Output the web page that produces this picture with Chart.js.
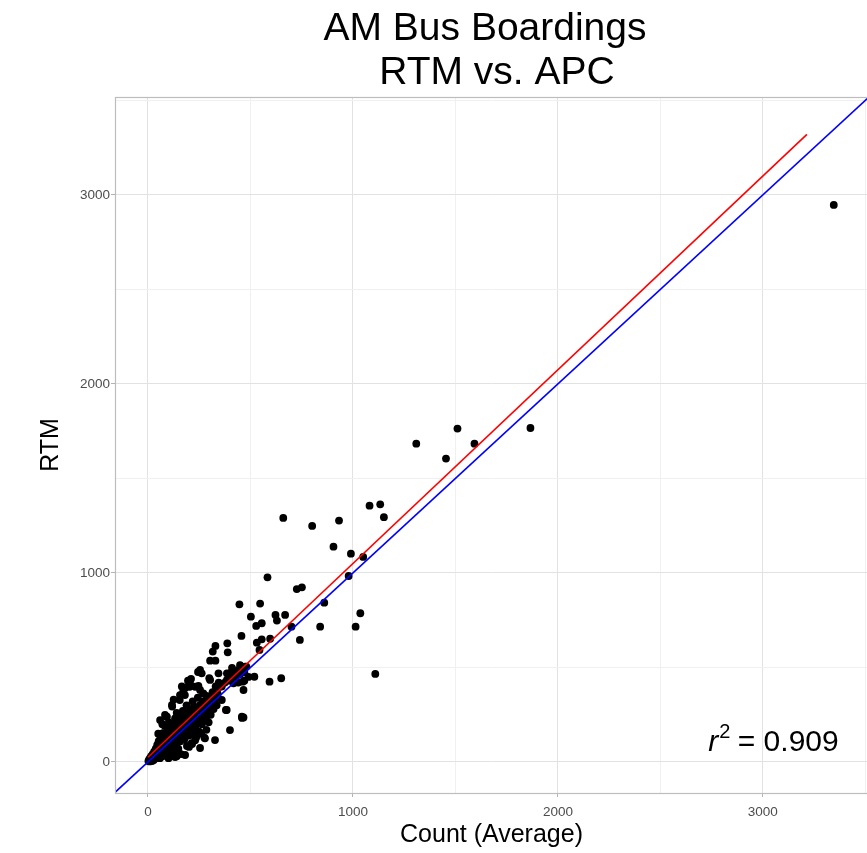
<!DOCTYPE html>
<html>
<head>
<meta charset="utf-8">
<title>AM Bus Boardings RTM vs. APC</title>
<script src="https://cdn.jsdelivr.net/npm/chart.js@4.4.1/dist/chart.umd.min.js"></script>
<style>
  html, body { margin: 0; padding: 0; background: #fff; overflow: hidden; }
  /* panel runs a few px past the right edge, as in the original image */
  #wrap { width: 867px; height: 853px; overflow: hidden; }
</style>
</head>
<body>
<div id="wrap"><canvas id="boardingsChart" width="872" height="853"></canvas></div>
<script>
// AM bus boardings per route/stop: APC count (average) vs. RTM model
const titleLines = ['AM Bus Boardings', 'RTM vs. APC'];
const xAxisTitle = 'Count (Average)';
const yAxisTitle = 'RTM';
const rSquaredText = '0.909';

const apcCount = [
  3346, 1866, 1593, 1510, 1454, 1309, 1081, 1133, 1151, 660, 801, 932,
  905, 990, 1050, 979, 860, 1036, 1013, 840, 1109, 583, 446, 547,
  726, 751, 502, 528, 555, 622, 629, 669, 700, 741, 456, 531,
  555, 596, 544, 387, 389, 329, 316, 303, 329, 254, 262, 299,
  385, 344, 519, 650, 593, 466, 462, 466, 380, 449, 474, 401,
  433, 385, 417, 458,
  400, 420, 430, 445, 470, 415, 395, 440, 480, 450, 375, 360, 490, 470, 410, 455,
  2, 5, 8, 10, 12, 15, 18, 20, 22, 25, 28, 30, 32, 35, 38, 40, 42, 45, 48, 50,
  52, 55, 58, 60, 62, 65, 68, 70, 72, 75, 78, 80, 82, 85, 88, 90, 92, 95, 98, 100,
  102, 105, 108, 110, 112, 115, 118, 120, 122, 125, 128, 130, 132, 135, 138, 140, 142, 145, 148, 150,
  152, 155, 158, 160, 161, 164, 167, 170, 172, 175, 178, 180, 182, 185, 188, 190, 192, 195, 197, 200,
  203, 205, 208, 210, 213, 215, 218, 220, 223, 225, 228, 230, 232, 235, 238, 240, 243, 246, 248, 250,
  252, 254, 257, 260, 263, 266, 270, 272, 275, 278, 280, 283, 286, 290, 293, 296, 300, 303, 303, 306,
  310, 315, 320, 325, 330, 335, 340, 345, 352, 360, 384,
  59, 83, 117, 156, 181, 205, 244, 132, 181, 254, 327, 400, 459,
  200, 215, 230, 260, 285, 140, 100, 70, 90, 50, 125, 165, 210
];
const rtmBoardings = [
  2947, 1767, 1684, 1764, 1605, 1684, 1356, 1363, 1295, 1291, 1249, 1277,
  1139, 1102, 1085, 984, 843, 787, 716, 716, 466, 977, 834, 838,
  915, 924, 769, 720, 734, 778, 748, 778, 716, 646, 667, 631,
  649, 652, 593, 628, 580, 614, 584, 536, 536, 487, 469, 443,
  469, 469, 451, 443, 425, 381, 425, 236, 275, 513, 504, 469,
  460, 434, 416, 240,
  470, 480, 455, 490, 475, 440, 430, 420, 505, 465, 420, 400, 450, 430, 498, 500,
  5, 12, 3, 20, 8, 30, 15, 5, 40, 22, 10, 55, 35, 18, 70, 45, 28, 90, 60, 35,
  110, 75, 20, 48, 130, 95, 60, 30, 152, 115, 80, 45, 190, 135, 100, 60, 240, 160, 120, 75,
  210, 145, 95, 50, 180, 125, 293, 80, 165, 200, 110, 60, 230, 150, 95, 260, 185, 130, 70, 210,
  160, 328, 110, 240, 42, 180, 140, 270, 372, 205, 120, 354, 235, 160, 300, 85, 260, 430, 190, 140,
  398, 225, 280, 170, 100, 250, 320, 200, 150, 290, 240, 398, 185, 130, 270, 215, 340, 402, 250, 160,
  300, 381, 230, 280, 200, 320, 363, 260, 129, 125, 300, 230, 350, 270, 320, 210, 290, 434, 346, 250,
  310, 370, 280, 330, 400, 300, 360, 420, 398, 328, 275,
  222, 249, 302, 354, 392, 418, 476, 26, 37, 74, 116, 169, 233,
  80, 95, 115, 150, 170, 30, 20, 200, 240, 150, 330, 400, 440
];

// fitted regression line (red) and 1:1 reference line (blue)
const fitLineX = [0, 3215];
const fitLineY = [25, 3320];
const identityX = [-300, 3700];
const identityY = [-300, 3700];

// axis limits and ticks (gridlines every 500, labels every 1000)
const xLimits = [-161, 3513];
const yLimits = [-164, 3518];
const gridTicks = [0, 500, 1000, 1500, 2000, 2500, 3000, 3500];
const labelStep = 1000;

const fontFamily = '"Liberation Sans", Arial, sans-serif';

function toPoints(xs, ys) {
  return xs.map((x, i) => ({ x: x, y: ys[i] }));
}

const isMajor = ctx => ctx.tick && ctx.tick.value % labelStep === 0;
const gridColor = ctx => isMajor(ctx) ? '#e2e2e2' : '#f0f0f0';
const tickMarkColor = ctx => isMajor(ctx) ? '#b3b3b3' : 'rgba(0,0,0,0)';
const tickLabel = v => (v % labelStep === 0 ? String(v) : '');
const setTicks = scale => { scale.ticks = gridTicks.map(v => ({ value: v })); };

// title, r-squared label and panel border
const annotatePlugin = {
  id: 'annotate',
  afterDraw(chart) {
    const { ctx, chartArea: a, scales } = chart;
    ctx.save();

    ctx.strokeStyle = '#bdbdbd';
    ctx.lineWidth = 1.2;
    ctx.strokeRect(a.left + 0.5, a.top + 0.5, a.right - a.left + 2, a.bottom - a.top);

    ctx.fillStyle = '#000';
    ctx.textBaseline = 'alphabetic';
    ctx.textAlign = 'center';
    ctx.font = '39px ' + fontFamily;
    ctx.fillText(titleLines[0], 485, 40);
    ctx.fillText(titleLines[1], 497, 84);

    // r^2 = 0.909, right aligned
    const right = scales.x.getPixelForValue(3370);
    const base = scales.y.getPixelForValue(58);
    ctx.textAlign = 'left';
    ctx.font = '30px ' + fontFamily;
    const rest = ' = ' + rSquaredText;
    const restW = ctx.measureText(rest).width;
    ctx.font = '20px ' + fontFamily;
    const supW = ctx.measureText('2').width;
    ctx.font = 'italic 30px ' + fontFamily;
    const rW = ctx.measureText('r').width;
    let x = right - restW - supW - rW;
    ctx.fillText('r', x, base);
    x += rW + 1;
    ctx.font = '20px ' + fontFamily;
    ctx.fillText('2', x, base - 13);
    x += supW - 1;
    ctx.font = '30px ' + fontFamily;
    ctx.fillText(rest, x, base);

    ctx.restore();
  }
};

new Chart(document.getElementById('boardingsChart').getContext('2d'), {
  type: 'scatter',
  data: {
    datasets: [
      {
        label: 'Fit',
        data: toPoints(fitLineX, fitLineY),
        showLine: true,
        borderColor: '#ff0000',
        borderWidth: 1.6,
        pointRadius: 0,
        order: 1
      },
      {
        label: '1:1',
        data: toPoints(identityX, identityY),
        showLine: true,
        borderColor: '#0000ff',
        borderWidth: 1.6,
        pointRadius: 0,
        order: 2
      },
      {
        label: 'Boardings',
        data: toPoints(apcCount, rtmBoardings),
        backgroundColor: '#000',
        borderWidth: 0,
        pointRadius: 3.9,
        order: 3
      }
    ]
  },
  options: {
    responsive: false,
    animation: false,
    events: [],
    layout: { padding: { top: 97, left: 0, right: 0, bottom: 0 } },
    plugins: {
      legend: { display: false },
      tooltip: { enabled: false },
      title: { display: false }
    },
    scales: {
      x: {
        type: 'linear',
        min: xLimits[0],
        max: xLimits[1],
        afterBuildTicks: setTicks,
        afterFit: scale => { scale.height = 60; scale.paddingLeft = 0; scale.paddingRight = 0; },
        border: { display: false },
        grid: { color: gridColor, tickColor: tickMarkColor, tickLength: 4, lineWidth: 1 },
        ticks: {
          autoSkip: false,
          maxRotation: 0,
          padding: 7,
          color: '#4d4d4d',
          font: { family: fontFamily, size: 13.5 },
          callback: tickLabel
        },
        title: {
          display: true,
          text: xAxisTitle,
          color: '#000',
          font: { family: fontFamily, size: 25 },
          padding: { top: 0, bottom: 3 }
        }
      },
      y: {
        type: 'linear',
        min: yLimits[0],
        max: yLimits[1],
        afterBuildTicks: setTicks,
        afterFit: scale => { scale.width = 115; scale.paddingTop = 0; scale.paddingBottom = 0; },
        border: { display: false },
        grid: { color: gridColor, tickColor: tickMarkColor, tickLength: 4, lineWidth: 1 },
        ticks: {
          autoSkip: false,
          padding: 1,
          color: '#4d4d4d',
          font: { family: fontFamily, size: 13.5 },
          callback: tickLabel
        },
        title: {
          display: true,
          text: yAxisTitle,
          color: '#000',
          font: { family: fontFamily, size: 25 },
          padding: { top: 36, bottom: 0 }
        }
      }
    }
  },
  plugins: [annotatePlugin]
});
</script>
</body>
</html>
